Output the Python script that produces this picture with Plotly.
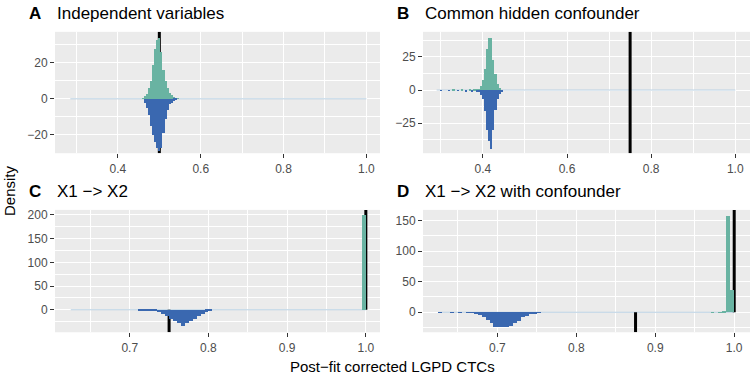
import plotly.graph_objects as go

# ---- data (bin centres, densities; binwidth 0.005) ----
a_green_x = [0.46, 0.465, 0.47, 0.475, 0.48, 0.485, 0.49, 0.495, 0.5, 0.505,
             0.51, 0.515, 0.52, 0.525, 0.53, 0.535, 0.54, 0.545]
a_green_y = [0.5, 1.5, 3, 6, 10, 19, 28, 33, 34, 26, 16, 10, 6, 3.5, 2, 1, 0.5, 0.3]
a_blue_x = [0.465, 0.47, 0.475, 0.48, 0.485, 0.49, 0.495, 0.5, 0.505, 0.51,
            0.515, 0.52, 0.525, 0.53, 0.535, 0.54]
a_blue_y = [-2, -5, -9, -15, -20, -24, -27, -29, -27, -19, -11, -6, -3, -2, -1, -0.5]
a_true = [0.5, 0.5]          # [upper, lower]
a_span = [0.285, 1.0]

b_green_x = [0.33, 0.35, 0.37, 0.38, 0.385, 0.39, 0.395, 0.4, 0.405, 0.41,
             0.415, 0.42, 0.425, 0.43, 0.435, 0.44]
b_green_y = [0.4, 0.5, 0.6, 0.8, 0.5, 1, 3.5, 8, 16, 31, 39, 39, 23, 12, 5, 2]
b_blue_x = [0.3, 0.32, 0.34, 0.36, 0.375, 0.385, 0.39, 0.395, 0.4, 0.405,
            0.41, 0.415, 0.42, 0.425, 0.43, 0.435, 0.44, 0.445]
b_blue_y = [-0.4, -0.5, -0.6, -0.8, -1, -1.5, -1, -3.5, -7, -16, -30, -38, -44,
            -30, -15, -7, -3, -1]
b_true = [0.75, 0.75]
b_span = [0.29, 1.0]

c_green_x = [0.9975]
c_green_y = [200]
c_blue_x = [0.7125, 0.7175, 0.7225, 0.7275, 0.7325, 0.7375, 0.7425, 0.7475,
            0.7525, 0.7575, 0.7625, 0.7675, 0.7725, 0.7775, 0.7825, 0.7875,
            0.7925, 0.7975, 0.8025]
c_blue_y = [-0.5, -0.5, -1, -1.5, -3, -5, -8.5, -12, -19, -24, -28, -34, -28,
            -24, -19, -13, -8.5, -3.5, -1]
c_true = [1.0, 0.75]
c_span = [0.625, 1.0]

d_green_x = [0.9725, 0.9825, 0.9875, 0.9925, 0.9975]
d_green_y = [0.6, 0.6, 1, 158, 37]
d_blue_x = [0.6275, 0.6425, 0.6525, 0.6625, 0.6675, 0.6725, 0.6775, 0.6825,
            0.6875, 0.6925, 0.6975, 0.7025, 0.7075, 0.7125, 0.7175, 0.7225,
            0.7275, 0.7325, 0.7375, 0.7425, 0.7475, 0.7525]
d_blue_y = [-0.3, -0.4, -0.5, -0.5, -1, -2.5, -4, -7, -12.5, -18, -23.5, -24.5,
            -24.5, -23.5, -22, -18, -13.5, -8, -5.5, -2.7, -1.5, -0.8]
d_true = [1.0, 0.875]
d_span = [0.625, 1.0]

GREEN = "#69b3a2"
BLUE = "#3a68b0"
FONT = "Liberation Sans"
W, H = 756, 378

panels = [
    dict(letter="A", title="Independent variables",
         gx=a_green_x, gy=a_green_y, bx=a_blue_x, by=a_blue_y, true=a_true, span=a_span,
         xr=[0.248, 1.033], yr=[-30.2, 37.2], xd=0.2, yd=20,
         box=(55, 380, 30, 152)),
    dict(letter="B", title="Common hidden confounder",
         gx=b_green_x, gy=b_green_y, bx=b_blue_x, by=b_blue_y, true=b_true, span=b_span,
         xr=[0.2576, 1.035], yr=[-47.5, 43.75], xd=0.2, yd=25,
         box=(423, 750, 30, 152)),
    dict(letter="C", title="X1 \u2212> X2",
         gx=c_green_x, gy=c_green_y, bx=c_blue_x, by=c_blue_y, true=c_true, span=c_span,
         xr=[0.605, 1.018], yr=[-47.4, 210.6], xd=0.1, yd=50,
         box=(55, 380, 209, 332)),
    dict(letter="D", title="X1 \u2212> X2 with confounder",
         gx=d_green_x, gy=d_green_y, bx=d_blue_x, by=d_blue_y, true=d_true, span=d_span,
         xr=[0.6057, 1.02], yr=[-32.7, 167.5], xd=0.1, yd=50,
         box=(423, 750, 209, 332)),
]

fig = go.Figure()
shapes = []
annotations = []
layout = {}

for i, p in enumerate(panels, start=1):
    xa = "x" if i == 1 else f"x{i}"
    ya = "y" if i == 1 else f"y{i}"
    x0, x1, y0, y1 = p["box"]

    fig.add_trace(go.Bar(x=p["gx"], y=p["gy"], width=0.005, marker_color=GREEN,
                         marker_line_width=0, xaxis=xa, yaxis=ya, showlegend=False))
    fig.add_trace(go.Bar(x=p["bx"], y=p["by"], width=0.005, marker_color=BLUE,
                         marker_line_width=0, xaxis=xa, yaxis=ya, showlegend=False))

    # faint zero line over the data range
    shapes.append(dict(type="line", xref=xa, yref=ya, x0=p["span"][0], x1=p["span"][1],
                       y0=0, y1=0, layer="between",
                       line=dict(color="#b9d0e2", width=1)))
    # true values: upper half / lower half
    shapes.append(dict(type="line", xref=xa, yref=ya, x0=p["true"][0], x1=p["true"][0],
                       y0=0, y1=p["yr"][1], layer="between",
                       line=dict(color="black", width=3)))
    shapes.append(dict(type="line", xref=xa, yref=ya, x0=p["true"][1], x1=p["true"][1],
                       y0=p["yr"][0], y1=0, layer="between",
                       line=dict(color="black", width=3)))

    axis_common = dict(showgrid=True, gridcolor="white", gridwidth=1.3,
                       zeroline=False, showline=False, ticks="outside", ticklen=4,
                       tickwidth=1, tickcolor="#333333",
                       tickfont=dict(family=FONT, size=12, color="#4d4d4d"))
    layout["xaxis" if i == 1 else f"xaxis{i}"] = dict(
        axis_common, domain=[x0 / W, x1 / W], range=p["xr"], anchor=ya,
        tick0=0, dtick=p["xd"], tickformat=".1f",
        minor=dict(showgrid=True, gridcolor="white", gridwidth=0.6,
                   tick0=0, dtick=p["xd"] / 2))
    layout["yaxis" if i == 1 else f"yaxis{i}"] = dict(
        axis_common, domain=[1 - y1 / H, 1 - y0 / H], range=p["yr"], anchor=xa,
        tick0=0, dtick=p["yd"],
        minor=dict(showgrid=True, gridcolor="white", gridwidth=0.6,
                   tick0=0, dtick=p["yd"] / 2))

    annotations.append(dict(text=f"<b>{p['letter']}</b>", xref="paper", yref="paper",
                            x=(x0 - 20) / W, y=1 - (y0 - 18.5) / H, showarrow=False,
                            xanchor="center", yanchor="middle",
                            font=dict(family=FONT, size=17, color="black")))
    annotations.append(dict(text=p["title"], xref="paper", yref="paper",
                            x=(x0 + 0) / W, y=1 - (y0 - 18.5) / H, showarrow=False,
                            xanchor="left", yanchor="middle",
                            font=dict(family=FONT, size=17, color="black")))

annotations.append(dict(text="Density", xref="paper", yref="paper", x=10 / W, y=1 - 190 / H,
                        textangle=-90, showarrow=False, xanchor="center", yanchor="middle",
                        font=dict(family=FONT, size=15, color="black")))
annotations.append(dict(text="Post\u2212fit corrected LGPD CTCs", xref="paper", yref="paper",
                        x=392 / W, y=1 - 366 / H, showarrow=False,
                        xanchor="center", yanchor="middle",
                        font=dict(family=FONT, size=15, color="black")))

fig.update_layout(
    width=W, height=H,
    margin=dict(l=0, r=0, t=0, b=0),
    paper_bgcolor="white", plot_bgcolor="#ebebeb",
    barmode="overlay", bargap=0,
    shapes=shapes, annotations=annotations,
    **layout,
)

# the page's default body margin would shift the figure by 8px
fig.write_html("out.html", config={"displayModeBar": False},
               post_script="document.body.style.margin='0';")
